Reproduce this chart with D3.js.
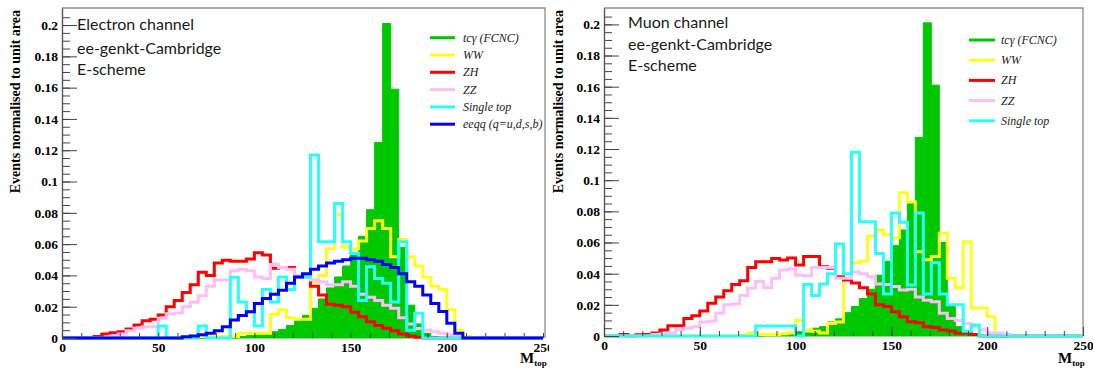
<!DOCTYPE html>
<html>
<head>
<meta charset="utf-8">
<script src="https://cdn.jsdelivr.net/npm/d3@7"></script>
<style>
  body { margin: 0; background: #fff; }
  svg { display: block; }
</style>
</head>
<body>
<svg id="chart" width="1093" height="368"></svg>
<script>
// Reconstructed top-mass distributions, 60 bins over 0–250 GeV,
// each sample normalised to unit area.
const nBins = 60, mMin = 0, mMax = 250;
const xMajorTicks = [0, 50, 100, 150, 200, 250];
const yMajorTicks = [0, 0.02, 0.04, 0.06, 0.08, 0.1, 0.12, 0.14, 0.16, 0.18, 0.2];
const legendLabels = ["tcγ (FCNC)", "WW", "ZH", "ZZ", "Single top", "eeqq (q=u,d,s,b)"];

// ---- Electron channel ----
const eTcg = [0,0,0,0,0,0,0,0,0,0, 0,0,0,0,0,0,0,0,0,0,
  0,0,0.001,0.0015,0.002,0.003,0.004,0.0055,0.008,0.011,
  0.0145,0.019,0.025,0.032,0.039,0.046,0.053,0.065,0.082,0.125,
  0.201,0.159,0.058,0.021,0.009,0.003,0.001,0,0,0, 0,0,0,0,0,0,0,0,0,0];
const eWW = [0,0,0,0,0,0,0,0,0,0, 0,0,0,0,0,0,0,0.001,0.001,0.001,
  0.001,0.001,0.003,0.003,0.003,0.003,0.015,0.018,0.013,0.012,
  0.012,0.036,0.040,0.057,0.079,0.058,0.057,0.062,0.070,0.075,
  0.070,0.052,0.063,0.052,0.046,0.039,0.033,0.031,0.018,0.005,
  0.001,0,0,0,0,0,0,0,0,0];
const eZH = [0,0,0,0,0.001,0.0026,0.0034,0.004,0.0057,0.0083,
  0.011,0.012,0.0147,0.020,0.024,0.029,0.034,0.042,0.040,0.048,
  0.0497,0.049,0.049,0.0505,0.0545,0.053,0.0445,0.045,0.045,0.039,
  0.039,0.033,0.0275,0.0215,0.021,0.020,0.0165,0.0136,0.0104,0.008,
  0.0062,0.0047,0.0026,0.0013,0.0005,0,0,0,0,0, 0,0,0,0,0,0,0,0,0,0];
const eZZ = [0,0,0,0,0,0,0.0013,0.0026,0.0047,0.0062,
  0.0072,0.0072,0.0126,0.0155,0.016,0.020,0.0228,0.027,0.033,0.037,
  0.037,0.043,0.044,0.043,0.039,0.038,0.047,0.045,0.044,0.040,
  0.039,0.037,0.036,0.034,0.034,0.036,0.033,0.028,0.026,0.024,
  0.021,0.019,0.013,0.009,0.006,0.005,0.004,0.003,0.002,0.001,
  0,0,0,0,0,0,0,0,0,0];
const eSingleTop = [0,0,0,0,0,0,0,0,0,0, 0,0,0.0077,0,0,0,0,0.0077,0,0,
  0,0.0388,0.023,0.017,0.0077,0.031,0.023,0.039,0.031,0.039,
  0.039,0.117,0.0615,0.0615,0.086,0.0615,0.054,0.024,0.0456,0.038,
  0.035,0.023,0.0615,0.005,0.0158,0,0,0,0,0, 0,0,0,0,0,0,0,0,0,0];
const eEeqq = [0,0,0,0,0,0,0,0,0,0, 0,0,0,0,0,0.0008,0.0012,0.002,0.003,0.0047,
  0.0072,0.0115,0.0143,0.0168,0.022,0.0253,0.028,0.0305,0.035,0.039,
  0.041,0.044,0.046,0.048,0.049,0.050,0.051,0.051,0.050,0.049,
  0.047,0.045,0.041,0.036,0.033,0.0275,0.022,0.017,0.0095,0.003,
  0,0,0,0,0,0,0,0,0,0];

// ---- Muon channel ----
const mTcg = [0,0,0,0,0,0,0,0,0,0, 0,0,0,0,0,0,0,0,0,0,
  0.0005,0.001,0.001,0.0015,0.0028,0.002,0.005,0.006,0.009,0.011,
  0.015,0.019,0.024,0.030,0.039,0.048,0.058,0.068,0.085,0.1275,
  0.201,0.161,0.060,0.019,0.006,0.003,0.0015,0,0,0, 0,0,0,0,0,0,0,0,0,0];
const mWW = [0,0,0,0,0,0,0,0,0,0, 0,0,0,0,0,0,0,0.0005,0.002,0.001,
  0.001,0.001,0.0015,0.002,0.010,0.004,0.003,0.002,0.008,0.009,
  0.037,0.047,0.048,0.064,0.068,0.065,0.063,0.092,0.086,0.054,
  0.049,0.051,0.066,0.037,0.031,0.0605,0.018,0.018,0.0124,0,
  0,0,0,0,0,0,0,0,0,0];
const mZH = [0,0,0.001,0,0.0008,0.001,0.002,0.0038,0.0066,0.0066,
  0.0113,0.013,0.016,0.021,0.025,0.029,0.033,0.0355,0.044,0.0477,
  0.0477,0.0498,0.0488,0.050,0.0456,0.051,0.051,0.0445,0.0435,0.038,
  0.036,0.034,0.031,0.027,0.020,0.019,0.0156,0.0124,0.0092,0.0085,
  0.006,0.0055,0.0038,0.0032,0.0017,0.002,0.001,0,0,0, 0,0,0,0,0,0,0,0,0,0];
const mZZ = [0,0,0,0,0,0,0.001,0.0013,0.002,0.004,
  0.005,0.006,0.009,0.0095,0.0146,0.020,0.0205,0.026,0.0306,0.0349,
  0.031,0.037,0.0423,0.043,0.039,0.0385,0.044,0.044,0.044,0.037,
  0.037,0.041,0.040,0.038,0.0334,0.033,0.0317,0.0295,0.030,0.025,
  0.023,0.022,0.0146,0.0113,0.010,0.008,0.006,0.004,0.002,0.002,
  0.001,0,0,0,0,0,0,0,0,0];
const mSingleTop = [0,0,0,0,0,0,0,0,0,0, 0,0,0,0,0,0,0,0,0,0.0064,
  0.0064,0.0064,0.0064,0.0064,0,0.033,0.026,0.0334,0.040,0.059,
  0.040,0.118,0.0733,0.0733,0.053,0.027,0.079,0.073,0.0327,0.079,
  0.027,0.047,0.027,0.020,0.020,0.003,0.007,0,0,0, 0,0,0,0,0,0,0,0,0,0];

// ---- styling ----
const colors = {
  tcg: "#00c800", ww: "#ffff1e", zh: "#ff0000", zz: "#ffbdfb",
  st: "#28ffff", eeqq: "#0000ff"
};

const edges = d3.range(nBins + 1).map(i => mMin + i * (mMax - mMin) / nBins);

const panels = [
  {
    px: [62, 543], py: [338, 8], yTop: 0.2109, frameRight: 545,
    title: ["Electron channel", "ee-genkt-Cambridge", "E-scheme"],
    titleX: 77, titleY: [29.5, 54, 75],
    yTitleX: 20, mX: 520,
    legend: { x1: 430, x2: 455, tx: 463, y0: 37.7, dy: 17.3 },
    series: [
      { key: "tcg", vals: eTcg, fill: true, label: 0 },
      { key: "ww", vals: eWW, label: 1 },
      { key: "zh", vals: eZH, label: 2 },
      { key: "zz", vals: eZZ, label: 3 },
      { key: "st", vals: eSingleTop, label: 4 },
      { key: "eeqq", vals: eEeqq, label: 5 }
    ],
    clipLabels: 549
  },
  {
    px: [604, 1083], py: [336, 8], yTop: 0.2105, frameRight: 1083,
    title: ["Muon channel", "ee-genkt-Cambridge", "E-scheme"],
    titleX: 628, titleY: [28, 50, 71],
    yTitleX: 563, mX: 1058,
    legend: { x1: 969, x2: 995, tx: 1001, y0: 40, dy: 20.2 },
    series: [
      { key: "tcg", vals: mTcg, fill: true, label: 0 },
      { key: "ww", vals: mWW, label: 1 },
      { key: "zh", vals: mZH, label: 2 },
      { key: "zz", vals: mZZ, label: 3 },
      { key: "st", vals: mSingleTop, label: 4 }
    ],
    clipLabels: null
  }
];

const svg = d3.select("#chart");
const defs = svg.append("defs");
const serif = "'Liberation Serif', 'Times New Roman', serif";

panels.forEach((p, pi) => {
  const x = d3.scaleLinear().domain([mMin, mMax]).range(p.px);
  const y = d3.scaleLinear().domain([0, p.yTop]).range(p.py);
  const g = svg.append("g");

  const clipId = "plotclip" + pi;
  defs.append("clipPath").attr("id", clipId).append("rect")
    .attr("x", p.px[0] - 2).attr("y", p.py[1])
    .attr("width", p.frameRight - p.px[0] + 2).attr("height", p.py[0] - p.py[1] + 3);

  // histograms
  const plot = g.append("g").attr("clip-path", `url(#${clipId})`);
  const pts = vals => {
    const a = vals.map((v, i) => [edges[i], v]);
    a.push([edges[nBins], vals[nBins - 1]]);
    return a;
  };
  const line = d3.line().x(d => x(d[0])).y(d => y(d[1])).curve(d3.curveStepAfter);
  const area = d3.area().x(d => x(d[0])).y0(y(0)).y1(d => y(d[1])).curve(d3.curveStepAfter);

  p.series.forEach(s => {
    if (s.fill) {
      plot.append("path").attr("d", area(pts(s.vals)))
        .attr("fill", colors[s.key]).attr("stroke", colors[s.key]).attr("stroke-width", 1);
    } else {
      plot.append("path").attr("d", line(pts(s.vals)))
        .attr("fill", "none").attr("stroke", colors[s.key])
        .attr("stroke-width", 3).attr("stroke-linejoin", "miter");
    }
  });

  // frame
  g.append("path")
    .attr("d", `M${p.px[0]},${p.py[1]}H${p.frameRight}V${p.py[0]}`)
    .attr("fill", "none").attr("stroke", "#8c8c8c").attr("stroke-width", 1.3);

  // y axis: major ticks with labels, minor ticks every 0.005
  const yMinor = d3.range(0, 42).map(i => i * 0.005).filter(v => v <= p.yTop + 1e-9);
  const yMinorAxis = d3.axisLeft(y).tickValues(yMinor).tickSize(-8).tickSizeOuter(0).tickFormat("");
  const yMajorAxis = d3.axisLeft(y).tickValues(yMajorTicks).tickSize(-15).tickSizeOuter(0)
    .tickPadding(4).tickFormat(d => d === 0 ? "0" : d3.format(".2~f")(d));
  const gyMinor = g.append("g").attr("transform", `translate(${p.px[0]},0)`).call(yMinorAxis);
  const gy = g.append("g").attr("transform", `translate(${p.px[0]},0)`).call(yMajorAxis);
  [gyMinor, gy].forEach(a => {
    a.selectAll("line").attr("stroke", "#444");
    a.select(".domain").attr("stroke", "#555").attr("stroke-width", 1.2);
  });
  gy.selectAll("text").attr("font-family", serif).attr("font-weight", "bold")
    .attr("font-size", 13.5).attr("fill", "#000");

  // x axis: labelled ticks every 50, minor every 10
  const xMinorAxis = d3.axisBottom(x).tickValues(d3.range(0, 26).map(i => i * 10))
    .tickSize(-5).tickSizeOuter(0).tickFormat("");
  const xMajorAxis = d3.axisBottom(x).tickValues(xMajorTicks).tickSize(-9).tickSizeOuter(0)
    .tickPadding(4).tickFormat(d3.format("d"));
  const gxMinor = g.append("g").attr("transform", `translate(0,${p.py[0]})`).call(xMinorAxis);
  const gx = g.append("g").attr("transform", `translate(0,${p.py[0]})`).call(xMajorAxis);
  [gxMinor, gx].forEach(a => {
    a.selectAll("line").attr("stroke", "#444");
    a.select(".domain").attr("stroke", "none");
  });
  gx.selectAll("text").attr("font-family", serif).attr("font-weight", "bold")
    .attr("font-size", 13.5).attr("fill", "#000");
  if (p.clipLabels) {
    const lid = "labelclip" + pi;
    defs.append("clipPath").attr("id", lid).append("rect")
      .attr("x", 0).attr("y", 0).attr("width", p.clipLabels).attr("height", 368);
    gx.attr("clip-path", `url(#${lid})`);
  }

  // axis titles
  g.append("text")
    .attr("transform", `translate(${p.yTitleX},${p.py[1] + 2}) rotate(-90)`)
    .attr("text-anchor", "end")
    .attr("font-family", serif).attr("font-weight", "bold").attr("font-size", 14)
    .attr("fill", "#000")
    .text("Events normalised to unit area");

  const mt = g.append("text").attr("x", p.mX).attr("y", 363)
    .attr("font-family", serif).attr("font-weight", "bold").attr("font-size", 15).attr("fill", "#000");
  mt.append("tspan").text("M");
  mt.append("tspan").attr("font-size", 9).attr("dy", 3).text("top");

  // channel annotation
  p.title.forEach((t, i) => {
    g.append("text").attr("x", p.titleX).attr("y", p.titleY[i])
      .attr("font-family", "Lato, 'Open Sans', sans-serif").attr("font-size", 16)
      .attr("fill", "#1a1a1a").text(t);
  });

  // legend
  p.series.forEach((s, i) => {
    const ly = p.legend.y0 + i * p.legend.dy;
    g.append("line").attr("x1", p.legend.x1).attr("x2", p.legend.x2)
      .attr("y1", ly).attr("y2", ly)
      .attr("stroke", colors[s.key]).attr("stroke-width", 3);
    g.append("text").attr("x", p.legend.tx).attr("y", ly + 4)
      .attr("font-family", serif).attr("font-style", "italic").attr("font-size", 12)
      .attr("fill", "#222").text(legendLabels[s.label]);
  });
});
</script>
</body>
</html>
